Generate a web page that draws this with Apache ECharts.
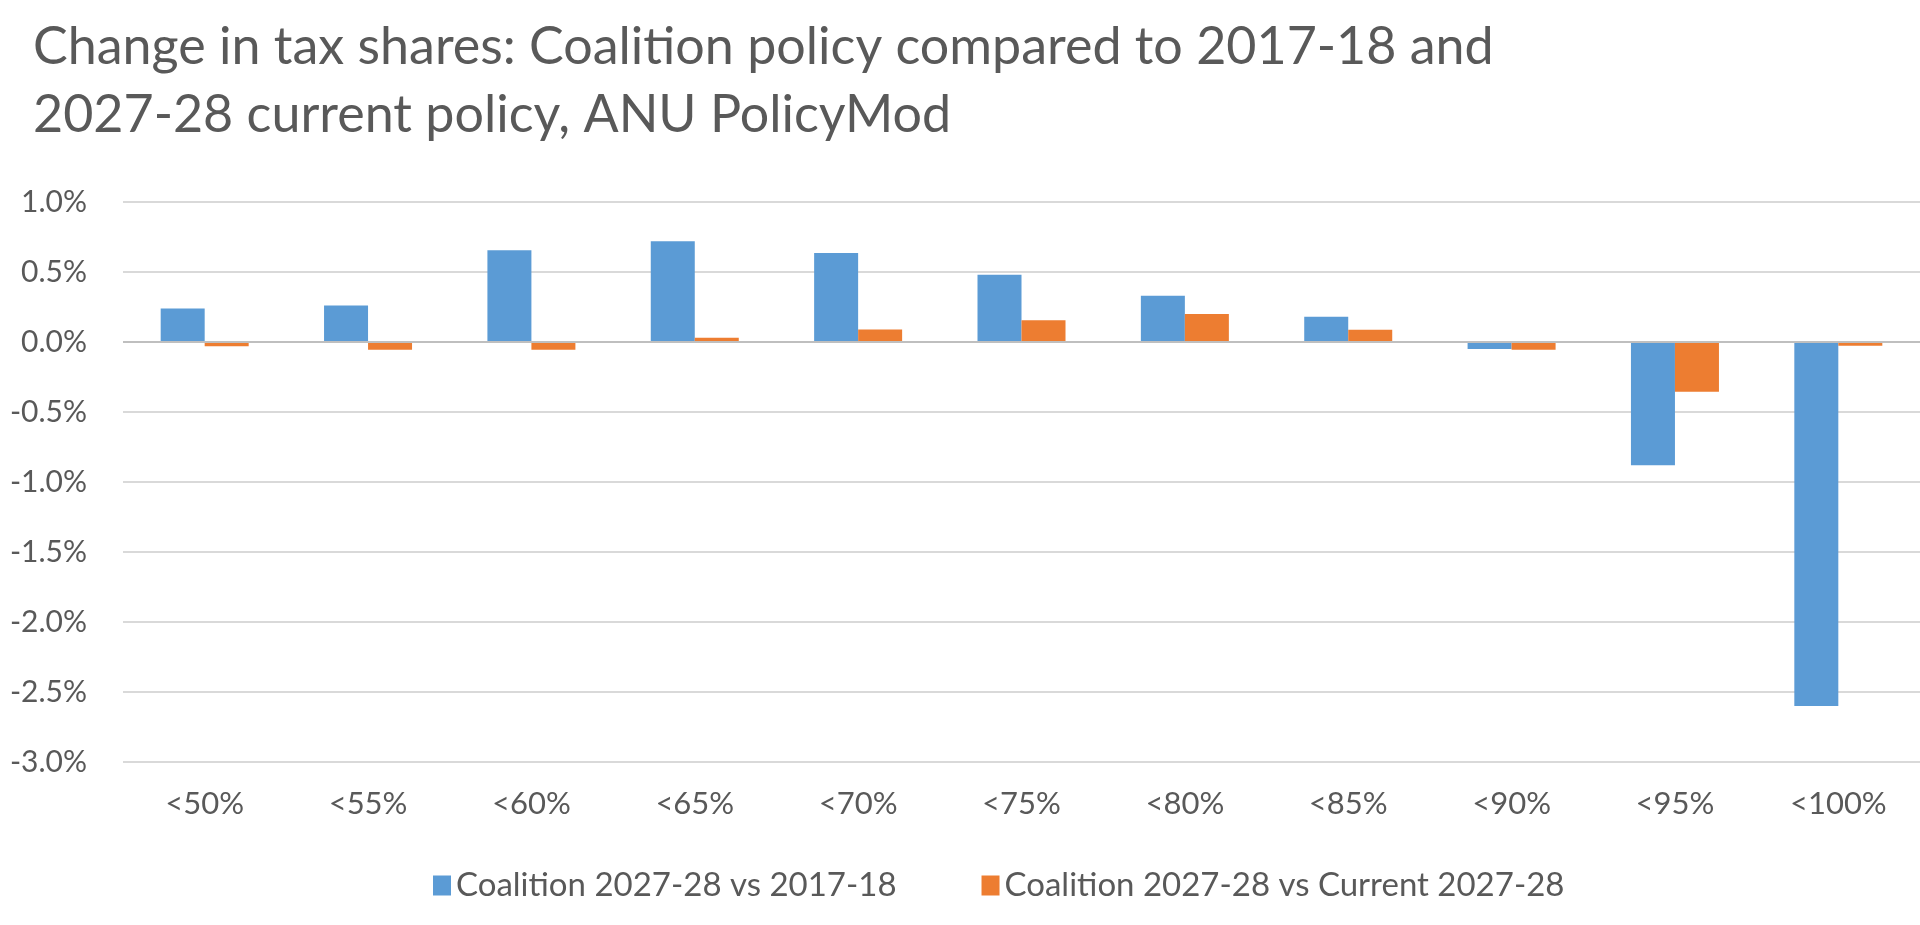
<!DOCTYPE html>
<html>
<head>
<meta charset="utf-8">
<script src="https://cdn.jsdelivr.net/npm/echarts@6/dist/echarts.min.js"></script>
<style>
html,body{margin:0;padding:0;background:#fff;}
#chart{width:1920px;height:925px;}
</style>
</head>
<body>
<div id="chart"></div>
<script>
const titleText = "Change in tax shares: Coalition policy compared to 2017-18 and\n2027-28 current policy, ANU PolicyMod";
const categories = ["<50%","<55%","<60%","<65%","<70%","<75%","<80%","<85%","<90%","<95%","<100%"];
const seriesNames = ["Coalition 2027-28 vs 2017-18","Coalition 2027-28 vs Current 2027-28"];
const vs201718 = [0.24, 0.26, 0.655, 0.72, 0.635, 0.48, 0.33, 0.18, -0.05, -0.88, -2.6];
const vsCurrent = [-0.03, -0.055, -0.055, 0.03, 0.09, 0.155, 0.20, 0.087, -0.055, -0.355, -0.027];
const yTicks = {min: -3, max: 1, interval: 0.5};

const chart = echarts.init(document.getElementById('chart'));
const font = 'Lato';
chart.setOption({
  animation: false,
  backgroundColor: '#ffffff',
  title: {
    text: titleText,
    left: 28, top: 8,
    textStyle: {fontFamily: font, fontSize: 52, fontWeight: 'normal', color: '#595959', lineHeight: 68}
  },
  legend: {
    top: 864, left: 428,
    icon: 'rect', itemWidth: 18, itemHeight: 20, itemGap: 85,
    textStyle: {fontFamily: font, fontSize: 33, color: '#595959'},
    data: seriesNames
  },
  grid: {left: 123, right: -20, top: 202, bottom: 163, containLabel: false},
  xAxis: {
    type: 'category', data: categories,
    axisLine: {show: false, onZero: false},
    axisTick: {show: false},
    axisLabel: {fontFamily: font, fontSize: 31, color: '#595959', margin: 26}
  },
  yAxis: {
    type: 'value', min: yTicks.min, max: yTicks.max, interval: yTicks.interval,
    axisLine: {show: false}, axisTick: {show: false},
    axisLabel: {fontFamily: font, fontSize: 30, color: '#595959', margin: 36,
      formatter: v => v.toFixed(1) + '%'},
    splitLine: {lineStyle: {color: '#D9D9D9', width: 2}}
  },
  series: [
    {name: seriesNames[0], type: 'bar', data: vs201718, barWidth: 44, barGap: '0%',
     itemStyle: {color: '#5B9BD5'},
     markLine: {silent: true, symbol: 'none', label: {show: false},
       lineStyle: {color: '#BFBFBF', width: 2, type: 'solid'}, data: [{yAxis: 0}]}},
    {name: seriesNames[1], type: 'bar', data: vsCurrent, barWidth: 44, barGap: '0%',
     itemStyle: {color: '#ED7D31'}}
  ]
});
</script>
</body>
</html>
